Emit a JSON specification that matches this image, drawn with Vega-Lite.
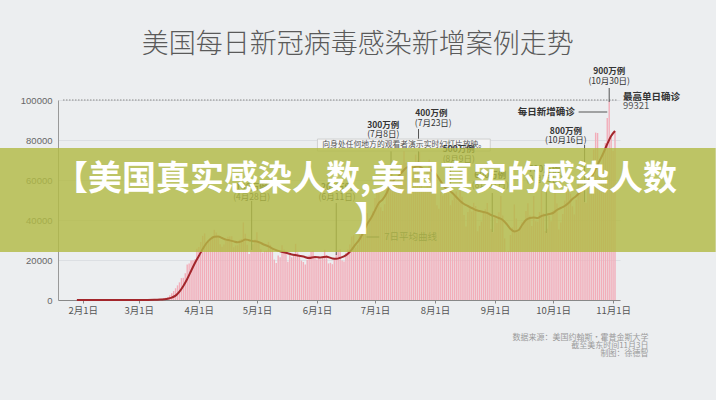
{
"$schema": "https://vega.github.io/schema/vega-lite/v6.json",
"width": 562,
"height": 200,
"autosize": {"type": "none"},
"padding": {"left": 58, "top": 100, "right": 96, "bottom": 100},
"background": "#eceef0",
"config": {"view": {"stroke": null}, "font": "Noto Sans CJK SC"},
"resolve": {"axis": {"x": "independent", "y": "independent"}},
"datasets": {
"daily": [
{"d":"2020-01-22","n":1},{"d":"2020-01-23","n":0},{"d":"2020-01-24","n":1},{"d":"2020-01-25","n":0},{"d":"2020-01-26","n":3},{"d":"2020-01-27","n":0},{"d":"2020-01-28","n":0},{"d":"2020-01-29","n":0},{"d":"2020-01-30","n":0},{"d":"2020-01-31","n":1},
{"d":"2020-02-01","n":1},{"d":"2020-02-02","n":1},{"d":"2020-02-03","n":3},{"d":"2020-02-04","n":0},{"d":"2020-02-05","n":1},{"d":"2020-02-06","n":0},{"d":"2020-02-07","n":0},{"d":"2020-02-08","n":0},{"d":"2020-02-09","n":0},{"d":"2020-02-10","n":0},{"d":"2020-02-11","n":1},{"d":"2020-02-12","n":0},{"d":"2020-02-13","n":1},{"d":"2020-02-14","n":0},{"d":"2020-02-15","n":0},{"d":"2020-02-16","n":0},{"d":"2020-02-17","n":0},{"d":"2020-02-18","n":0},{"d":"2020-02-19","n":0},{"d":"2020-02-20","n":0},{"d":"2020-02-21","n":19},{"d":"2020-02-22","n":0},{"d":"2020-02-23","n":0},{"d":"2020-02-24","n":36},{"d":"2020-02-25","n":0},{"d":"2020-02-26","n":6},{"d":"2020-02-27","n":1},{"d":"2020-02-28","n":2},{"d":"2020-02-29","n":8},
{"d":"2020-03-01","n":7},{"d":"2020-03-02","n":23},{"d":"2020-03-03","n":20},{"d":"2020-03-04","n":31},{"d":"2020-03-05","n":70},{"d":"2020-03-06","n":48},{"d":"2020-03-07","n":115},{"d":"2020-03-08","n":114},{"d":"2020-03-09","n":196},{"d":"2020-03-10","n":334},{"d":"2020-03-11","n":392},{"d":"2020-03-12","n":511},{"d":"2020-03-13","n":720},{"d":"2020-03-14","n":709},{"d":"2020-03-15","n":1106},{"d":"2020-03-16","n":1450},{"d":"2020-03-17","n":2355},{"d":"2020-03-18","n":3320},{"d":"2020-03-19","n":4480},{"d":"2020-03-20","n":5860},{"d":"2020-03-21","n":7320},{"d":"2020-03-22","n":8820},{"d":"2020-03-23","n":10950},{"d":"2020-03-24","n":11100},{"d":"2020-03-25","n":13400},{"d":"2020-03-26","n":17800},{"d":"2020-03-27","n":18200},{"d":"2020-03-28","n":19700},{"d":"2020-03-29","n":19900},{"d":"2020-03-30","n":20400},{"d":"2020-03-31","n":25600},
{"d":"2020-04-01","n":26500},{"d":"2020-04-02","n":29000},{"d":"2020-04-03","n":32100},{"d":"2020-04-04","n":33300},{"d":"2020-04-05","n":28200},{"d":"2020-04-06","n":29600},{"d":"2020-04-07","n":30600},{"d":"2020-04-08","n":31900},{"d":"2020-04-09","n":35100},{"d":"2020-04-10","n":33700},{"d":"2020-04-11","n":31400},{"d":"2020-04-12","n":27900},{"d":"2020-04-13","n":26600},{"d":"2020-04-14","n":27800},{"d":"2020-04-15","n":29600},{"d":"2020-04-16","n":31600},{"d":"2020-04-17","n":31900},{"d":"2020-04-18","n":31900},{"d":"2020-04-19","n":26400},{"d":"2020-04-20","n":27300},{"d":"2020-04-21","n":27400},{"d":"2020-04-22","n":30100},{"d":"2020-04-23","n":30500},{"d":"2020-04-24","n":38800},{"d":"2020-04-25","n":33100},{"d":"2020-04-26","n":27600},{"d":"2020-04-27","n":23000},{"d":"2020-04-28","n":24900},{"d":"2020-04-29","n":27900},{"d":"2020-04-30","n":30300},
{"d":"2020-05-01","n":33900},{"d":"2020-05-02","n":29100},{"d":"2020-05-03","n":25400},{"d":"2020-05-04","n":23700},{"d":"2020-05-05","n":24600},{"d":"2020-05-06","n":24700},{"d":"2020-05-07","n":29100},{"d":"2020-05-08","n":27600},{"d":"2020-05-09","n":25900},{"d":"2020-05-10","n":20200},{"d":"2020-05-11","n":18500},{"d":"2020-05-12","n":22300},{"d":"2020-05-13","n":21400},{"d":"2020-05-14","n":27400},{"d":"2020-05-15","n":25200},{"d":"2020-05-16","n":24300},{"d":"2020-05-17","n":19100},{"d":"2020-05-18","n":22500},{"d":"2020-05-19","n":21400},{"d":"2020-05-20","n":22500},{"d":"2020-05-21","n":28100},{"d":"2020-05-22","n":23800},{"d":"2020-05-23","n":21800},{"d":"2020-05-24","n":19700},{"d":"2020-05-25","n":19000},{"d":"2020-05-26","n":17800},{"d":"2020-05-27","n":20000},{"d":"2020-05-28","n":22200},{"d":"2020-05-29","n":24200},{"d":"2020-05-30","n":24600},{"d":"2020-05-31","n":21100},
{"d":"2020-06-01","n":20200},{"d":"2020-06-02","n":21800},{"d":"2020-06-03","n":20400},{"d":"2020-06-04","n":21200},{"d":"2020-06-05","n":25100},{"d":"2020-06-06","n":22500},{"d":"2020-06-07","n":18300},{"d":"2020-06-08","n":18600},{"d":"2020-06-09","n":17900},{"d":"2020-06-10","n":21000},{"d":"2020-06-11","n":23200},{"d":"2020-06-12","n":24900},{"d":"2020-06-13","n":25300},{"d":"2020-06-14","n":19800},{"d":"2020-06-15","n":19200},{"d":"2020-06-16","n":23600},{"d":"2020-06-17","n":25300},{"d":"2020-06-18","n":27800},{"d":"2020-06-19","n":31800},{"d":"2020-06-20","n":32400},{"d":"2020-06-21","n":26200},{"d":"2020-06-22","n":27600},{"d":"2020-06-23","n":34700},{"d":"2020-06-24","n":38700},{"d":"2020-06-25","n":39100},{"d":"2020-06-26","n":45300},{"d":"2020-06-27","n":43400},{"d":"2020-06-28","n":40900},{"d":"2020-06-29","n":40400},{"d":"2020-06-30","n":44400},
{"d":"2020-07-01","n":51000},{"d":"2020-07-02","n":55400},{"d":"2020-07-03","n":54800},{"d":"2020-07-04","n":46400},{"d":"2020-07-05","n":44500},{"d":"2020-07-06","n":47900},{"d":"2020-07-07","n":60400},{"d":"2020-07-08","n":61900},{"d":"2020-07-09","n":61800},{"d":"2020-07-10","n":66600},{"d":"2020-07-11","n":59600},{"d":"2020-07-12","n":59200},{"d":"2020-07-13","n":62000},{"d":"2020-07-14","n":65000},{"d":"2020-07-15","n":67600},{"d":"2020-07-16","n":75700},{"d":"2020-07-17","n":68600},{"d":"2020-07-18","n":63900},{"d":"2020-07-19","n":61100},{"d":"2020-07-20","n":61800},{"d":"2020-07-21","n":65200},{"d":"2020-07-22","n":72700},{"d":"2020-07-23","n":69800},{"d":"2020-07-24","n":74100},{"d":"2020-07-25","n":65100},{"d":"2020-07-26","n":55600},{"d":"2020-07-27","n":56200},{"d":"2020-07-28","n":64700},{"d":"2020-07-29","n":70100},{"d":"2020-07-30","n":67800},{"d":"2020-07-31","n":68500},
{"d":"2020-08-01","n":58400},{"d":"2020-08-02","n":47400},{"d":"2020-08-03","n":45600},{"d":"2020-08-04","n":55000},{"d":"2020-08-05","n":52300},{"d":"2020-08-06","n":57500},{"d":"2020-08-07","n":61700},{"d":"2020-08-08","n":53800},{"d":"2020-08-09","n":47400},{"d":"2020-08-10","n":49900},{"d":"2020-08-11","n":52500},{"d":"2020-08-12","n":54200},{"d":"2020-08-13","n":51200},{"d":"2020-08-14","n":64600},{"d":"2020-08-15","n":51600},{"d":"2020-08-16","n":42500},{"d":"2020-08-17","n":36800},{"d":"2020-08-18","n":44000},{"d":"2020-08-19","n":46700},{"d":"2020-08-20","n":44200},{"d":"2020-08-21","n":48600},{"d":"2020-08-22","n":47000},{"d":"2020-08-23","n":34400},{"d":"2020-08-24","n":37100},{"d":"2020-08-25","n":39200},{"d":"2020-08-26","n":44300},{"d":"2020-08-27","n":45400},{"d":"2020-08-28","n":48500},{"d":"2020-08-29","n":43900},{"d":"2020-08-30","n":35500},{"d":"2020-08-31","n":33900},
{"d":"2020-09-01","n":41700},{"d":"2020-09-02","n":38500},{"d":"2020-09-03","n":43900},{"d":"2020-09-04","n":52000},{"d":"2020-09-05","n":42200},{"d":"2020-09-06","n":30800},{"d":"2020-09-07","n":24000},{"d":"2020-09-08","n":24500},{"d":"2020-09-09","n":32500},{"d":"2020-09-10","n":36300},{"d":"2020-09-11","n":47800},{"d":"2020-09-12","n":40800},{"d":"2020-09-13","n":34000},{"d":"2020-09-14","n":35500},{"d":"2020-09-15","n":38900},{"d":"2020-09-16","n":39100},{"d":"2020-09-17","n":44500},{"d":"2020-09-18","n":48400},{"d":"2020-09-19","n":42200},{"d":"2020-09-20","n":37000},{"d":"2020-09-21","n":52000},{"d":"2020-09-22","n":39400},{"d":"2020-09-23","n":39200},{"d":"2020-09-24","n":44000},{"d":"2020-09-25","n":55100},{"d":"2020-09-26","n":43400},{"d":"2020-09-27","n":34500},{"d":"2020-09-28","n":35600},{"d":"2020-09-29","n":42300},{"d":"2020-09-30","n":39400},
{"d":"2020-10-01","n":44700},{"d":"2020-10-02","n":54500},{"d":"2020-10-03","n":48200},{"d":"2020-10-04","n":35200},{"d":"2020-10-05","n":38800},{"d":"2020-10-06","n":43000},{"d":"2020-10-07","n":49700},{"d":"2020-10-08","n":56700},{"d":"2020-10-09","n":58400},{"d":"2020-10-10","n":53100},{"d":"2020-10-11","n":46900},{"d":"2020-10-12","n":42800},{"d":"2020-10-13","n":50100},{"d":"2020-10-14","n":59600},{"d":"2020-10-15","n":64700},{"d":"2020-10-16","n":69900},{"d":"2020-10-17","n":55000},{"d":"2020-10-18","n":48600},{"d":"2020-10-19","n":63600},{"d":"2020-10-20","n":58600},{"d":"2020-10-21","n":62700},{"d":"2020-10-22","n":75200},{"d":"2020-10-23","n":83700},{"d":"2020-10-24","n":83500},{"d":"2020-10-25","n":61700},{"d":"2020-10-26","n":67200},{"d":"2020-10-27","n":73300},{"d":"2020-10-28","n":78500},{"d":"2020-10-29","n":91000},{"d":"2020-10-30","n":99321},{"d":"2020-10-31","n":81200},
{"d":"2020-11-01","n":74500},{"d":"2020-11-02","n":84500}
],
"avg": [
{"d":"2020-01-29","a":0},{"d":"2020-02-20","a":1},{"d":"2020-02-29","a":10},{"d":"2020-03-05","a":30},{"d":"2020-03-09","a":80},{"d":"2020-03-12","a":220},{"d":"2020-03-14","a":380},{"d":"2020-03-16","a":650},{"d":"2020-03-18","a":1200},{"d":"2020-03-20","a":2200},{"d":"2020-03-22","a":4200},{"d":"2020-03-24","a":7000},{"d":"2020-03-26","a":10500},{"d":"2020-03-28","a":14500},{"d":"2020-03-30","a":18500},
{"d":"2020-04-01","a":22000},{"d":"2020-04-03","a":25500},{"d":"2020-04-05","a":28500},{"d":"2020-04-07","a":30500},{"d":"2020-04-09","a":31600},{"d":"2020-04-11","a":31800},{"d":"2020-04-13","a":31000},{"d":"2020-04-15","a":30200},{"d":"2020-04-17","a":29800},{"d":"2020-04-19","a":29300},{"d":"2020-04-21","a":28900},{"d":"2020-04-23","a":29300},{"d":"2020-04-25","a":30300},{"d":"2020-04-27","a":29900},{"d":"2020-04-29","a":29400},
{"d":"2020-05-01","a":29300},{"d":"2020-05-04","a":28000},{"d":"2020-05-07","a":26800},{"d":"2020-05-10","a":25300},{"d":"2020-05-13","a":24300},{"d":"2020-05-16","a":23600},{"d":"2020-05-19","a":22800},{"d":"2020-05-22","a":22300},{"d":"2020-05-25","a":21700},{"d":"2020-05-28","a":21000},{"d":"2020-05-31","a":21500},
{"d":"2020-06-03","a":21300},{"d":"2020-06-06","a":21600},{"d":"2020-06-09","a":20800},{"d":"2020-06-11","a":20600},{"d":"2020-06-13","a":21100},{"d":"2020-06-15","a":21800},{"d":"2020-06-17","a":23100},{"d":"2020-06-19","a":25200},{"d":"2020-06-21","a":27800},{"d":"2020-06-23","a":30300},{"d":"2020-06-25","a":33800},{"d":"2020-06-27","a":38000},{"d":"2020-06-29","a":41000},
{"d":"2020-07-01","a":44800},{"d":"2020-07-03","a":48500},{"d":"2020-07-05","a":50300},{"d":"2020-07-07","a":53400},{"d":"2020-07-09","a":57600},{"d":"2020-07-11","a":60200},{"d":"2020-07-13","a":61800},{"d":"2020-07-15","a":64000},{"d":"2020-07-17","a":66000},{"d":"2020-07-19","a":66600},{"d":"2020-07-21","a":66300},{"d":"2020-07-23","a":67000},{"d":"2020-07-25","a":66200},{"d":"2020-07-27","a":65000},{"d":"2020-07-29","a":65300},{"d":"2020-07-31","a":64300},
{"d":"2020-08-02","a":62300},{"d":"2020-08-04","a":59300},{"d":"2020-08-06","a":56500},{"d":"2020-08-08","a":55000},{"d":"2020-08-10","a":53500},{"d":"2020-08-12","a":51500},{"d":"2020-08-14","a":49500},{"d":"2020-08-16","a":48000},{"d":"2020-08-18","a":47000},{"d":"2020-08-20","a":46000},{"d":"2020-08-22","a":45000},{"d":"2020-08-24","a":44500},{"d":"2020-08-26","a":44000},{"d":"2020-08-28","a":43500},{"d":"2020-08-30","a":42500},
{"d":"2020-09-01","a":41800},{"d":"2020-09-03","a":41000},{"d":"2020-09-05","a":40000},{"d":"2020-09-07","a":38000},{"d":"2020-09-09","a":35500},{"d":"2020-09-11","a":34300},{"d":"2020-09-13","a":34800},{"d":"2020-09-15","a":37500},{"d":"2020-09-17","a":40000},{"d":"2020-09-19","a":41000},{"d":"2020-09-21","a":41300},{"d":"2020-09-23","a":41000},{"d":"2020-09-25","a":42000},{"d":"2020-09-27","a":42500},{"d":"2020-09-29","a":43000},
{"d":"2020-10-01","a":43500},{"d":"2020-10-03","a":45000},{"d":"2020-10-05","a":46000},{"d":"2020-10-07","a":47000},{"d":"2020-10-09","a":48500},{"d":"2020-10-11","a":50500},{"d":"2020-10-13","a":52000},{"d":"2020-10-15","a":54000},{"d":"2020-10-17","a":56500},{"d":"2020-10-19","a":59500},{"d":"2020-10-21","a":62000},{"d":"2020-10-23","a":65500},{"d":"2020-10-25","a":69500},{"d":"2020-10-27","a":73500},{"d":"2020-10-29","a":78000},{"d":"2020-10-31","a":82000},{"d":"2020-11-02","a":84500}
],
"refline": [
{"d1":"2020-01-21T20:00:00Z","d2":"2020-11-03T12:00:00Z","v":100000}
],
"vlines": [
{"d":"2020-10-30T00:00:00Z","v1":106000,"v2":99000},
{"d":"2020-10-17T07:00:00Z","v1":77500,"v2":49000},
{"d":"2020-09-27T12:00:00Z","v1":56500,"v2":33500},
{"d":"2020-08-30T14:00:00Z","v1":53500,"v2":34000},
{"d":"2020-08-09T00:00:00Z","v1":67500,"v2":55000},
{"d":"2020-07-23T12:00:00Z","v1":85500,"v2":67500},
{"d":"2020-07-09T07:00:00Z","v1":80500,"v2":57500},
{"d":"2020-06-11T00:00:00Z","v1":48500,"v2":22500},
{"d":"2020-04-28T07:00:00Z","v1":49500,"v2":25000}
],
"hlines": [
{"d1":"2020-10-14T05:00:00Z","d2":"2020-10-29T00:00:00Z","v":94000},
{"d1":"2020-06-26T15:00:00Z","d2":"2020-07-03T05:00:00Z","v":31500}
],
"boxes": [
{"g":"popup","d1":"2020-06-01T07:00:00Z","d2":"2020-08-29T14:00:00Z","v1":80500,"v2":74500},
{"g":"banner","d1":"2019-12-20T00:00:00Z","d2":"2020-12-24T00:00:00Z","v1":76000,"v2":24000}
],
"notes": [
{"g":"milestone","t":"900万例","d":"2020-10-30T00:00:00Z","v":114500},
{"g":"milestone","t":"800万例","d":"2020-10-07T15:00:00Z","v":84500},
{"g":"milestone","t":"700万例","d":"2020-09-26T12:00:00Z","v":65500},
{"g":"milestone","t":"600万例","d":"2020-08-29T14:00:00Z","v":62500},
{"g":"milestone","t":"500万例","d":"2020-08-13T07:00:00Z","v":75500},
{"g":"milestone","t":"400万例","d":"2020-07-30T03:00:00Z","v":93500},
{"g":"milestone","t":"300万例","d":"2020-07-05T07:00:00Z","v":87500},
{"g":"milestone","t":"200万例","d":"2020-06-11T10:00:00Z","v":56500},
{"g":"milestone","t":"100万例","d":"2020-04-28T07:00:00Z","v":56500},
{"g":"when","t":"(10月30日)","d":"2020-10-30T00:00:00Z","v":109500},
{"g":"when","t":"(10月16日)","d":"2020-10-07T15:00:00Z","v":80000},
{"g":"when","t":"(9月25日)","d":"2020-09-26T12:00:00Z","v":60500},
{"g":"when","t":"(8月31日)","d":"2020-08-29T14:00:00Z","v":57500},
{"g":"when","t":"(8月9日)","d":"2020-08-13T07:00:00Z","v":70500},
{"g":"when","t":"(7月23日)","d":"2020-07-31T03:00:00Z","v":88500},
{"g":"when","t":"(7月8日)","d":"2020-07-05T07:00:00Z","v":83000},
{"g":"when","t":"(6月11日)","d":"2020-06-11T10:00:00Z","v":51500},
{"g":"when","t":"(4月28日)","d":"2020-04-28T07:00:00Z","v":51500},
{"g":"seriesLabel","t":"每日新增确诊","d":"2020-10-12T05:00:00Z","v":94000},
{"g":"peakLabel","t":"最高单日确诊","d":"2020-11-06T02:00:00Z","v":101500},
{"g":"peakValue","t":"99321","d":"2020-11-06T02:00:00Z","v":97000},
{"g":"avgLabel","t":"7日平均曲线","d":"2020-07-05T19:00:00Z","v":31500},
{"g":"popupText","t":"向身处任何地方的观看者演示实时幻灯片放映。","d":"2020-06-03T19:00:00Z","v":77500},
{"g":"source","t":"数据来源：美国约翰斯·霍普金斯大学","d":"2020-11-19T07:00:00Z","v":-19000},
{"g":"source","t":"截至美东时间11月3日","d":"2020-11-19T07:00:00Z","v":-23000},
{"g":"source","t":"制图：徐德智","d":"2020-11-19T07:00:00Z","v":-27000},
{"g":"title","t":"美国每日新冠病毒感染新增案例走势","d":"2020-06-22T02:00:00Z","v":127500},
{"g":"banner","t":"【美国真实感染人数,美国真实的感染人数","d":"2020-06-26T02:00:00Z","v":60000},
{"g":"banner","t":"】","d":"2020-06-29T05:00:00Z","v":39500}
]
},
"layer": [
{
"data": {"name": "daily"},
"mark": {"type": "bar", "width": 1.4, "color": "#f2adb9"},
"encoding": {
"x": {"field": "d", "type": "temporal",
"scale": {"type": "utc", "domain": [{"year":2020,"month":1,"date":21,"hours":20,"utc":true},{"year":2020,"month":11,"date":2,"utc":true}]},
"axis": {"values": [{"year":2020,"month":2,"date":1,"utc":true},{"year":2020,"month":3,"date":1,"utc":true},{"year":2020,"month":4,"date":1,"utc":true},{"year":2020,"month":5,"date":1,"utc":true},{"year":2020,"month":6,"date":1,"utc":true},{"year":2020,"month":7,"date":1,"utc":true},{"year":2020,"month":8,"date":1,"utc":true},{"year":2020,"month":9,"date":1,"utc":true},{"year":2020,"month":10,"date":1,"utc":true},{"year":2020,"month":11,"date":1,"utc":true}],
"format": "%-m月%-d日", "title": null, "grid": false, "labelOverlap": false, "labelFontSize": 9.5, "labelColor": "#555", "labelFont": "Noto Sans CJK SC", "tickSize": 3, "tickColor": "#888", "domainColor": "#888", "labelPadding": 2}},
"y": {"field": "n", "type": "quantitative",
"scale": {"domain": [0, 100000], "nice": false},
"axis": {"values": [0,20000,40000,60000,80000,100000], "format": "d", "title": null, "labelOverlap": false, "labelFontSize": 9.5, "labelColor": "#666", "labelFont": "Liberation Sans", "tickSize": 0, "labelPadding": 6, "domainColor": "#999", "grid": true, "gridColor": "#dcdfe3", "gridWidth": 1}}
}
},
{
"data": {"name": "refline"},
"mark": {"type": "rule", "color": "#8a8a8a", "strokeWidth": 1, "strokeDash": [1.5, 1.5]},
"encoding": {
"x": {"field": "d1", "type": "temporal", "axis": null, "scale": {"type": "utc", "domain": [{"year":2020,"month":1,"date":21,"hours":20,"utc":true},{"year":2020,"month":11,"date":2,"utc":true}]}},
"x2": {"field": "d2"},
"y": {"field": "v", "type": "quantitative", "axis": null, "scale": {"domain": [0, 100000], "nice": false}}
}
},
{
"data": {"name": "avg"},
"mark": {"type": "line", "color": "#a3262b", "strokeWidth": 2, "interpolate": "monotone"},
"encoding": {
"x": {"field": "d", "type": "temporal", "axis": null, "scale": {"type": "utc", "domain": [{"year":2020,"month":1,"date":21,"hours":20,"utc":true},{"year":2020,"month":11,"date":2,"utc":true}]}},
"y": {"field": "a", "type": "quantitative", "axis": null, "scale": {"domain": [0, 100000], "nice": false}}
}
},
{
"data": {"name": "vlines"},
"mark": {"type": "rule", "color": "#555", "strokeWidth": 1},
"encoding": {
"x": {"field": "d", "type": "temporal", "axis": null, "scale": {"type": "utc", "domain": [{"year":2020,"month":1,"date":21,"hours":20,"utc":true},{"year":2020,"month":11,"date":2,"utc":true}]}},
"y": {"field": "v1", "type": "quantitative", "axis": null, "scale": {"domain": [0, 100000], "nice": false}},
"y2": {"field": "v2"}
}
},
{
"data": {"name": "hlines"},
"mark": {"type": "rule", "color": "#555", "strokeWidth": 1},
"encoding": {
"x": {"field": "d1", "type": "temporal", "axis": null, "scale": {"type": "utc", "domain": [{"year":2020,"month":1,"date":21,"hours":20,"utc":true},{"year":2020,"month":11,"date":2,"utc":true}]}},
"x2": {"field": "d2"},
"y": {"field": "v", "type": "quantitative", "axis": null, "scale": {"domain": [0, 100000], "nice": false}}
}
},
{
"data": {"name": "boxes"},
"transform": [{"filter": "datum.g === 'popup'"}],
"mark": {"type": "rect", "fill": "#f4f4f4", "stroke": "#c9c9c9", "strokeWidth": 0.8},
"encoding": {
"x": {"field": "d1", "type": "temporal", "axis": null, "scale": {"type": "utc", "domain": [{"year":2020,"month":1,"date":21,"hours":20,"utc":true},{"year":2020,"month":11,"date":2,"utc":true}]}},
"x2": {"field": "d2"},
"y": {"field": "v1", "type": "quantitative", "axis": null, "scale": {"domain": [0, 100000], "nice": false}},
"y2": {"field": "v2"}
}
},
{
"data": {"name": "notes"},
"transform": [{"filter": "datum.g === 'milestone'"}],
"mark": {"type": "text", "fontSize": 8.5, "fontWeight": "bold", "color": "#333", "align": "center", "baseline": "middle"},
"encoding": {
"x": {"field": "d", "type": "temporal", "axis": null, "scale": {"type": "utc", "domain": [{"year":2020,"month":1,"date":21,"hours":20,"utc":true},{"year":2020,"month":11,"date":2,"utc":true}]}},
"y": {"field": "v", "type": "quantitative", "axis": null, "scale": {"domain": [0, 100000], "nice": false}},
"text": {"field": "t"}
}
},
{
"data": {"name": "notes"},
"transform": [{"filter": "datum.g === 'when'"}],
"mark": {"type": "text", "fontSize": 8.5, "color": "#333", "align": "center", "baseline": "middle"},
"encoding": {
"x": {"field": "d", "type": "temporal", "axis": null, "scale": {"type": "utc", "domain": [{"year":2020,"month":1,"date":21,"hours":20,"utc":true},{"year":2020,"month":11,"date":2,"utc":true}]}},
"y": {"field": "v", "type": "quantitative", "axis": null, "scale": {"domain": [0, 100000], "nice": false}},
"text": {"field": "t"}
}
},
{
"data": {"name": "notes"},
"transform": [{"filter": "datum.g === 'seriesLabel'"}],
"mark": {"type": "text", "fontSize": 9.5, "fontWeight": "bold", "color": "#333", "align": "right", "baseline": "middle"},
"encoding": {
"x": {"field": "d", "type": "temporal", "axis": null, "scale": {"type": "utc", "domain": [{"year":2020,"month":1,"date":21,"hours":20,"utc":true},{"year":2020,"month":11,"date":2,"utc":true}]}},
"y": {"field": "v", "type": "quantitative", "axis": null, "scale": {"domain": [0, 100000], "nice": false}},
"text": {"field": "t"}
}
},
{
"data": {"name": "notes"},
"transform": [{"filter": "datum.g === 'peakLabel'"}],
"mark": {"type": "text", "fontSize": 9.5, "fontWeight": "bold", "color": "#333", "align": "left", "baseline": "middle"},
"encoding": {
"x": {"field": "d", "type": "temporal", "axis": null, "scale": {"type": "utc", "domain": [{"year":2020,"month":1,"date":21,"hours":20,"utc":true},{"year":2020,"month":11,"date":2,"utc":true}]}},
"y": {"field": "v", "type": "quantitative", "axis": null, "scale": {"domain": [0, 100000], "nice": false}},
"text": {"field": "t"}
}
},
{
"data": {"name": "notes"},
"transform": [{"filter": "datum.g === 'peakValue' || datum.g === 'avgLabel'"}],
"mark": {"type": "text", "fontSize": 9.5, "color": "#555", "align": "left", "baseline": "middle"},
"encoding": {
"x": {"field": "d", "type": "temporal", "axis": null, "scale": {"type": "utc", "domain": [{"year":2020,"month":1,"date":21,"hours":20,"utc":true},{"year":2020,"month":11,"date":2,"utc":true}]}},
"y": {"field": "v", "type": "quantitative", "axis": null, "scale": {"domain": [0, 100000], "nice": false}},
"text": {"field": "t"}
}
},
{
"data": {"name": "notes"},
"transform": [{"filter": "datum.g === 'popupText'"}],
"mark": {"type": "text", "fontSize": 7.8, "color": "#555", "align": "left", "baseline": "middle"},
"encoding": {
"x": {"field": "d", "type": "temporal", "axis": null, "scale": {"type": "utc", "domain": [{"year":2020,"month":1,"date":21,"hours":20,"utc":true},{"year":2020,"month":11,"date":2,"utc":true}]}},
"y": {"field": "v", "type": "quantitative", "axis": null, "scale": {"domain": [0, 100000], "nice": false}},
"text": {"field": "t"}
}
},
{
"data": {"name": "boxes"},
"transform": [{"filter": "datum.g === 'banner'"}],
"mark": {"type": "rect", "fill": "#b2bb46", "opacity": 0.82},
"encoding": {
"x": {"field": "d1", "type": "temporal", "axis": null, "scale": {"type": "utc", "domain": [{"year":2020,"month":1,"date":21,"hours":20,"utc":true},{"year":2020,"month":11,"date":2,"utc":true}]}},
"x2": {"field": "d2"},
"y": {"field": "v1", "type": "quantitative", "axis": null, "scale": {"domain": [0, 100000], "nice": false}},
"y2": {"field": "v2"}
}
},
{
"data": {"name": "notes"},
"transform": [{"filter": "datum.g === 'banner'"}],
"mark": {"type": "text", "fontSize": 34, "fontWeight": "bold", "color": "#ffffff", "align": "center", "baseline": "middle"},
"encoding": {
"x": {"field": "d", "type": "temporal", "axis": null, "scale": {"type": "utc", "domain": [{"year":2020,"month":1,"date":21,"hours":20,"utc":true},{"year":2020,"month":11,"date":2,"utc":true}]}},
"y": {"field": "v", "type": "quantitative", "axis": null, "scale": {"domain": [0, 100000], "nice": false}},
"text": {"field": "t"}
}
},
{
"data": {"name": "notes"},
"transform": [{"filter": "datum.g === 'title'"}],
"mark": {"type": "text", "fontSize": 27, "fontWeight": 300, "color": "#5a5a5a", "align": "center", "baseline": "middle"},
"encoding": {
"x": {"field": "d", "type": "temporal", "axis": null, "scale": {"type": "utc", "domain": [{"year":2020,"month":1,"date":21,"hours":20,"utc":true},{"year":2020,"month":11,"date":2,"utc":true}]}},
"y": {"field": "v", "type": "quantitative", "axis": null, "scale": {"domain": [0, 100000], "nice": false}},
"text": {"field": "t"}
}
},
{
"data": {"name": "notes"},
"transform": [{"filter": "datum.g === 'source'"}],
"mark": {"type": "text", "fontSize": 8, "color": "#9a9a9a", "align": "right", "baseline": "middle"},
"encoding": {
"x": {"field": "d", "type": "temporal", "axis": null, "scale": {"type": "utc", "domain": [{"year":2020,"month":1,"date":21,"hours":20,"utc":true},{"year":2020,"month":11,"date":2,"utc":true}]}},
"y": {"field": "v", "type": "quantitative", "axis": null, "scale": {"domain": [0, 100000], "nice": false}},
"text": {"field": "t"}
}
}
]
}
